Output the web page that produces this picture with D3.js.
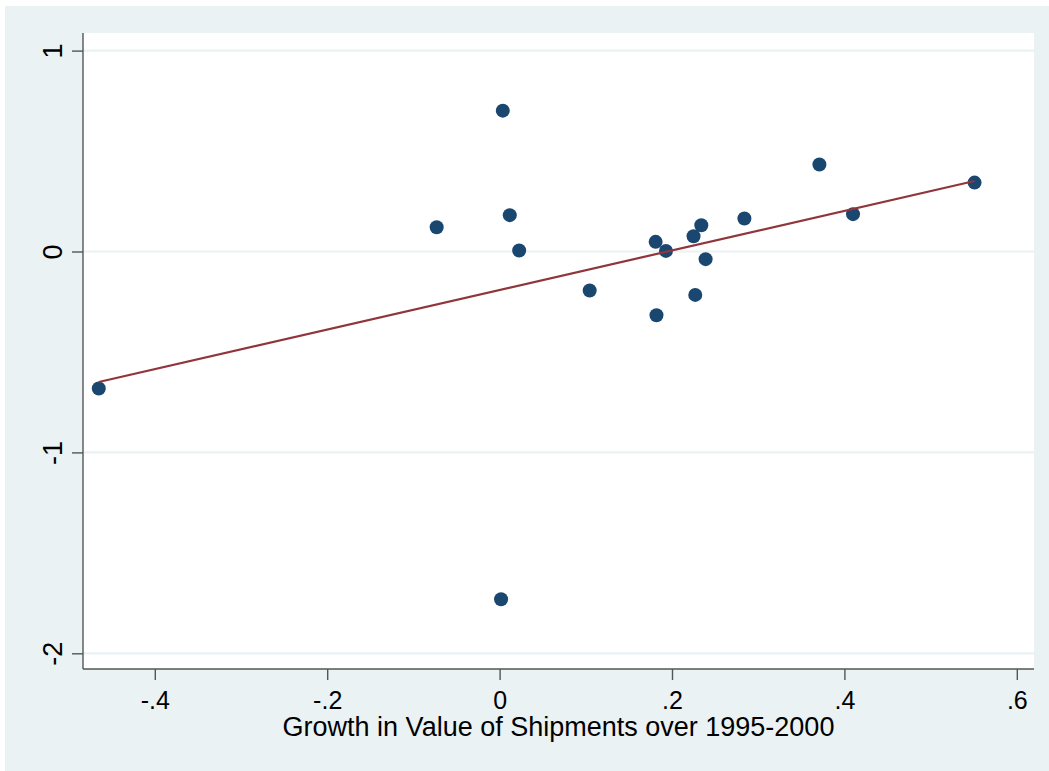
<!DOCTYPE html>
<html>
<head>
<meta charset="utf-8">
<script src="https://cdn.jsdelivr.net/npm/d3@7"></script>
<style>
  html, body { margin: 0; padding: 0; background: #ffffff; }
  svg { display: block; }
  text { font-family: "Liberation Sans", Arial, Helvetica, sans-serif; fill: #000; }
</style>
</head>
<body>
<svg id="chart" width="1049" height="771"></svg>
<script>
// Data: growth in value of shipments (x) vs outcome (y)
const growthX = [-0.465, -0.073, 0.0037, 0.0017, 0.0118, 0.0227, 0.1045, 0.181, 0.182,
                 0.193, 0.225, 0.227, 0.234, 0.239, 0.284, 0.371, 0.410, 0.551];
const outcomeY = [-0.682, 0.121, 0.701, -1.731, 0.181, 0.005, -0.194, 0.048, -0.317,
                  0.003, 0.076, -0.216, 0.131, -0.038, 0.164, 0.433, 0.186, 0.343];
const xTicks = [-0.4, -0.2, 0, 0.2, 0.4, 0.6];
const xTickLabels = ["-.4", "-.2", "0", ".2", ".4", ".6"];
const yTicks = [1, 0, -1, -2];
const yTickLabels = ["1", "0", "-1", "-2"];
const xTitle = "Growth in Value of Shipments over 1995-2000";

const W = 1049, H = 771;
const plot = { left: 83, right: 1034, top: 33, bottom: 669 };

const svg = d3.select("#chart");

// outer background
svg.append("rect").attr("x", 5).attr("y", 6).attr("width", W - 5).attr("height", H - 6)
  .attr("fill", "#eaf2f3");
// plot region
svg.append("rect").attr("x", plot.left).attr("y", plot.top)
  .attr("width", plot.right - plot.left).attr("height", plot.bottom - plot.top)
  .attr("fill", "#ffffff");

// scales: x 0 at ~499.6 px, 862 px per unit ; y 0 at ~251.5 px, 200.9 px per unit
const x = d3.scaleLinear()
  .domain([(plot.left - 499.6) / 862, (plot.right - 499.6) / 862])
  .range([plot.left, plot.right]);
const y = d3.scaleLinear()
  .domain([(251.5 - plot.bottom) / 200.9, (251.5 - plot.top) / 200.9])
  .range([plot.bottom, plot.top]);

// gridlines
svg.append("g").selectAll("line").data(yTicks).join("line")
  .attr("x1", plot.left).attr("x2", plot.right)
  .attr("y1", d => y(d)).attr("y2", d => y(d))
  .attr("stroke", "#eaf2f3").attr("stroke-width", 2.2);

// linear fit (OLS)
const n = growthX.length;
const mx = d3.mean(growthX), my = d3.mean(outcomeY);
let sxy = 0, sxx = 0;
for (let i = 0; i < n; i++) {
  sxy += (growthX[i] - mx) * (outcomeY[i] - my);
  sxx += (growthX[i] - mx) ** 2;
}
const slope = sxy / sxx, intercept = my - slope * mx;
const xr = d3.extent(growthX);
const fit = xr.map(v => [v, intercept + slope * v]);

// points
const pts = growthX.map((v, i) => [v, outcomeY[i]]);
svg.append("g").selectAll("circle").data(pts).join("circle")
  .attr("cx", d => x(d[0])).attr("cy", d => y(d[1]))
  .attr("r", 7).attr("fill", "#1a476f");

svg.append("path").datum(fit)
  .attr("d", d3.line().x(d => x(d[0])).y(d => y(d[1])))
  .attr("fill", "none").attr("stroke", "#90353b").attr("stroke-width", 2.2);

// axes
const xAxis = d3.axisBottom(x).tickValues(xTicks)
  .tickFormat((d, i) => xTickLabels[i]).tickSize(11).tickSizeOuter(0).tickPadding(12);
const gx = svg.append("g").attr("transform", `translate(0,${plot.bottom})`).call(xAxis);
gx.select(".domain").attr("stroke", "#555").attr("stroke-width", 1.4)
  .attr("d", `M${plot.left},0H${plot.right}`);
gx.selectAll(".tick line").attr("stroke", "#555").attr("stroke-width", 1.4);
gx.selectAll(".tick text").attr("font-size", 25)
  .attr("font-family", "'Liberation Sans', Arial, sans-serif").attr("fill", "#000")
  .attr("dy", null).attr("y", 40);

const yAxis = d3.axisLeft(y).tickValues(yTicks)
  .tickFormat((d, i) => yTickLabels[i]).tickSize(11).tickSizeOuter(0);
const gy = svg.append("g").attr("transform", `translate(${plot.left},0)`).call(yAxis);
gy.select(".domain").attr("stroke", "#555").attr("stroke-width", 1.4)
  .attr("d", `M0,${plot.top}V${plot.bottom}`);
gy.selectAll(".tick line").attr("stroke", "#555").attr("stroke-width", 1.4);
gy.selectAll(".tick text").attr("font-size", 27)
  .attr("font-family", "'Liberation Sans', Arial, sans-serif").attr("fill", "#000")
  .attr("x", null).attr("dy", null).attr("text-anchor", "middle")
  .attr("transform", "translate(-21,0) rotate(-90)");

// x axis title
svg.append("text").attr("x", (plot.left + plot.right) / 2).attr("y", 736)
  .attr("text-anchor", "middle").attr("font-size", 27).text(xTitle);
</script>
</body>
</html>
